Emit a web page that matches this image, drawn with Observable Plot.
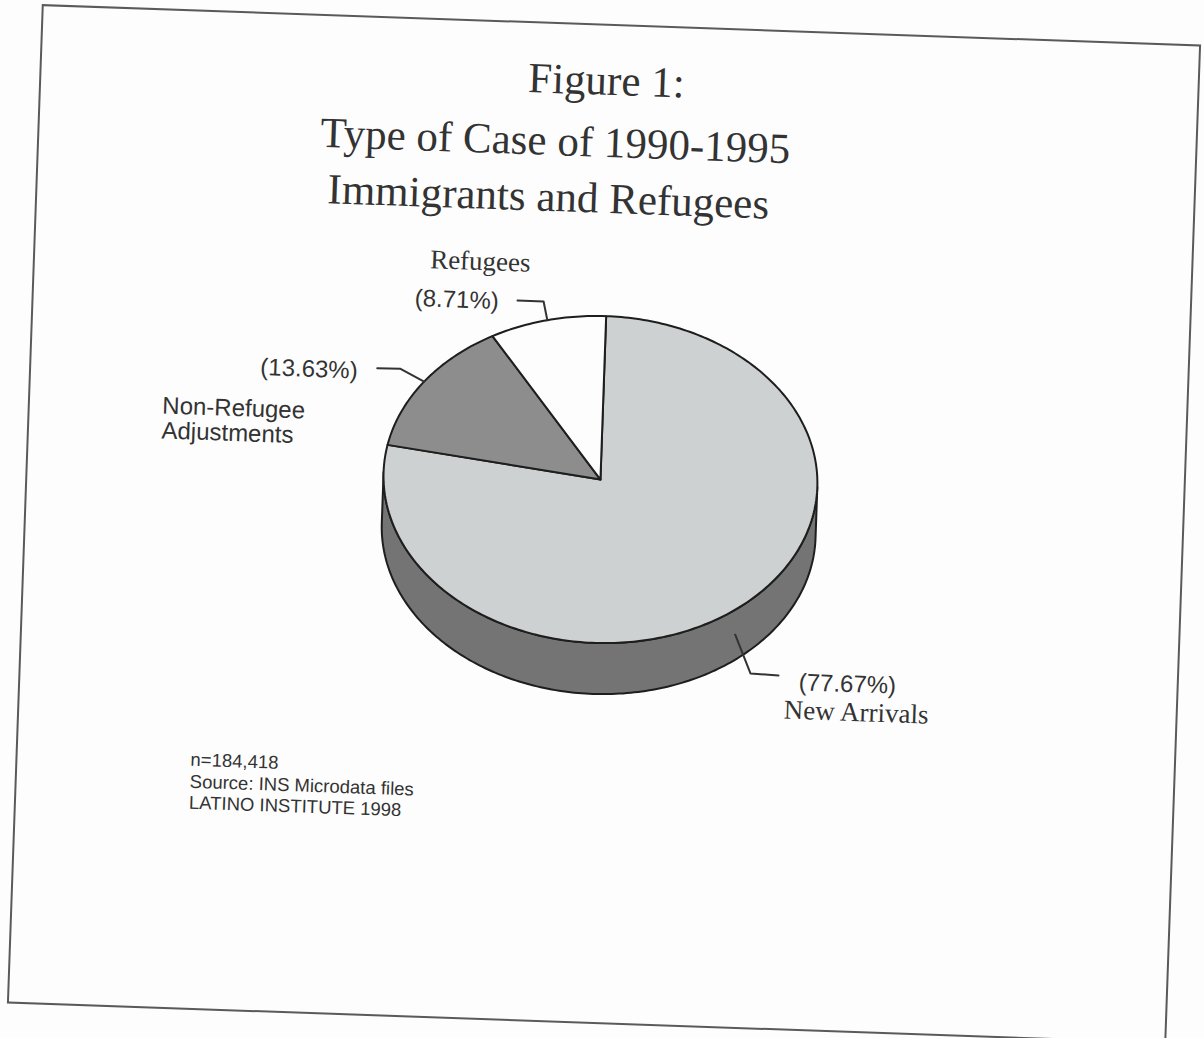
<!DOCTYPE html>
<html><head><meta charset="utf-8">
<script src="https://cdn.jsdelivr.net/npm/d3@7"></script>
<script src="https://cdn.jsdelivr.net/npm/@observablehq/plot@0.6"></script>
<style>
html,body{margin:0;padding:0;background:#fdfdfd;width:1204px;height:1038px;overflow:hidden;}
#sheet{position:absolute;left:24px;top:24px;width:1160px;height:1000px;box-sizing:border-box;border:2px solid #5a5a5a;transform:rotate(2deg);transform-origin:50% 50%;background:#fdfdfd;}
.t{position:absolute;white-space:nowrap;font-family:"Liberation Serif","Times New Roman",serif;font-size:43px;line-height:43px;color:#333;transform:translateX(-50%);}
#chart{position:absolute;left:0;top:200px;}
#note{position:absolute;left:173px;top:737px;font-family:"Liberation Sans",Arial,sans-serif;font-size:18.5px;line-height:21.5px;color:#333;white-space:nowrap;}
</style></head><body>
<div id="sheet"><div id="chart"></div><div id="note"></div></div>
<script>
// ---- data ----
const categories = ["New Arrivals", "Non-Refugee Adjustments", "Refugees"];
const shares = [77.67, 13.63, 8.71];
const nameLines = [["New Arrivals"], ["Non-Refugee", "Adjustments"], ["Refugees"]];
const titleLines = ["Figure 1:", "Type of Case of 1990-1995", "Immigrants and Refugees"];
const noteLines = ["n=184,418", "Source: INS Microdata files", "LATINO INSTITUTE 1998"];

// ---- layout / style ----
const W = 1156, TOP = 200, H = 530;
const cx = 572.4, cy = 453.2, rx = 217, ry = 163.5, depth = 51;
const topFill = ["#cdd1d1", "#8d8d8d", "#fdfdfd"];
const wallFill = ["#747474", "#5a5a5a", "#bdbdbd"];
const titlePos = [[565, 33], [516, 95], [511, 151]];
const leaderOffsets = [[[16.6, 38.2], [44.7, 39.2]], [[-24, -12], [-47.3, -11.8]], [[-4.4, -18.5], [-30.5, -18.6]]];
const pctPos = [[777.7, 656.8, "start"], [326, 360.6, "end"], [464.6, 286.3, "end"]];
const namePos = [[763.7, 685.6, "start", "serif"], [132, 427.4, "start", "sans"], [444.8, 247.9, "middle", "serif"]];

// title + note (HTML)
const sheet = document.getElementById("sheet");
titleLines.forEach((s, i) => {
  const d = document.createElement("div");
  d.className = "t"; d.textContent = s;
  d.style.left = titlePos[i][0] + "px"; d.style.top = titlePos[i][1] + "px";
  sheet.appendChild(d);
});
document.getElementById("note").innerHTML = noteLines.map(s => `<div>${s}</div>`).join("");

// ---- geometry from data ----
const data = categories.map((c, i) => ({category: c, share: shares[i], i}));
const arcs = d3.pie().sort(null).value(d => d.share)(data);
const pt = (t, dz = 0) => ({x: cx + rx * Math.sin(t), y: cy - ry * Math.cos(t) + dz});
function arcPts(a0, a1, dz) {
  const n = Math.max(2, Math.ceil(Math.abs(a1 - a0) / (Math.PI / 180)));
  return d3.range(n + 1).map(k => pt(a0 + (a1 - a0) * k / n, dz));
}
const marks = [];
// walls (front half only)
arcs.forEach(a => {
  const lo = Math.max(a.startAngle, Math.PI / 2), hi = Math.min(a.endAngle, 3 * Math.PI / 2);
  if (lo < hi) {
    const poly = [...arcPts(lo, hi, 0), ...arcPts(hi, lo, depth)];
    poly.push(poly[0]);
    marks.push(Plot.line(poly, {x: "x", y: "y", fill: wallFill[a.data.i], stroke: "#1e1e1e", strokeWidth: 2}));
  }
});
// top slices
arcs.forEach(a => {
  const poly = [{x: cx, y: cy}, ...arcPts(a.startAngle, a.endAngle, 0), {x: cx, y: cy}];
  marks.push(Plot.line(poly, {x: "x", y: "y", fill: topFill[a.data.i], stroke: "#1e1e1e", strokeWidth: 2}));
});
// leaders
arcs.forEach(a => {
  const m = (a.startAngle + a.endAngle) / 2;
  const p = pt(m, Math.cos(m) < 0 ? depth / 2 : 0);
  const off = leaderOffsets[a.data.i];
  const pts = [p, ...off.map(([dx, dy]) => ({x: p.x + dx, y: p.y + dy}))];
  marks.push(Plot.line(pts, {x: "x", y: "y", stroke: "#333", strokeWidth: 2}));
});
// labels
data.forEach(d => {
  const [x, y, anchor] = pctPos[d.i];
  marks.push(Plot.text([d], {x: () => x, y: () => y, text: d => `(${d.share.toFixed(2)}%)`,
    textAnchor: anchor, lineAnchor: "bottom", fontSize: 24, fontFamily: "Liberation Sans, Arial, sans-serif", fill: "#333"}));
  const [nx, ny, na, fam] = namePos[d.i];
  marks.push(Plot.text([d], {x: () => nx, y: () => ny, text: d => nameLines[d.i].join("\n"),
    textAnchor: na, lineAnchor: "bottom", lineHeight: fam === "serif" ? 1 : 25 / 24,
    fontSize: fam === "serif" ? 27 : 24,
    fontFamily: fam === "serif" ? "Liberation Serif, Times New Roman, serif" : "Liberation Sans, Arial, sans-serif", fill: "#333"}));
});

const chart = Plot.plot({
  width: W, height: H, margin: 0,
  x: {domain: [0, W], range: [0, W], axis: null},
  y: {domain: [TOP, TOP + H], range: [0, H], axis: null},
  style: {background: "transparent", overflow: "visible"},
  marks
});
document.getElementById("chart").appendChild(chart);
</script>
</body></html>
